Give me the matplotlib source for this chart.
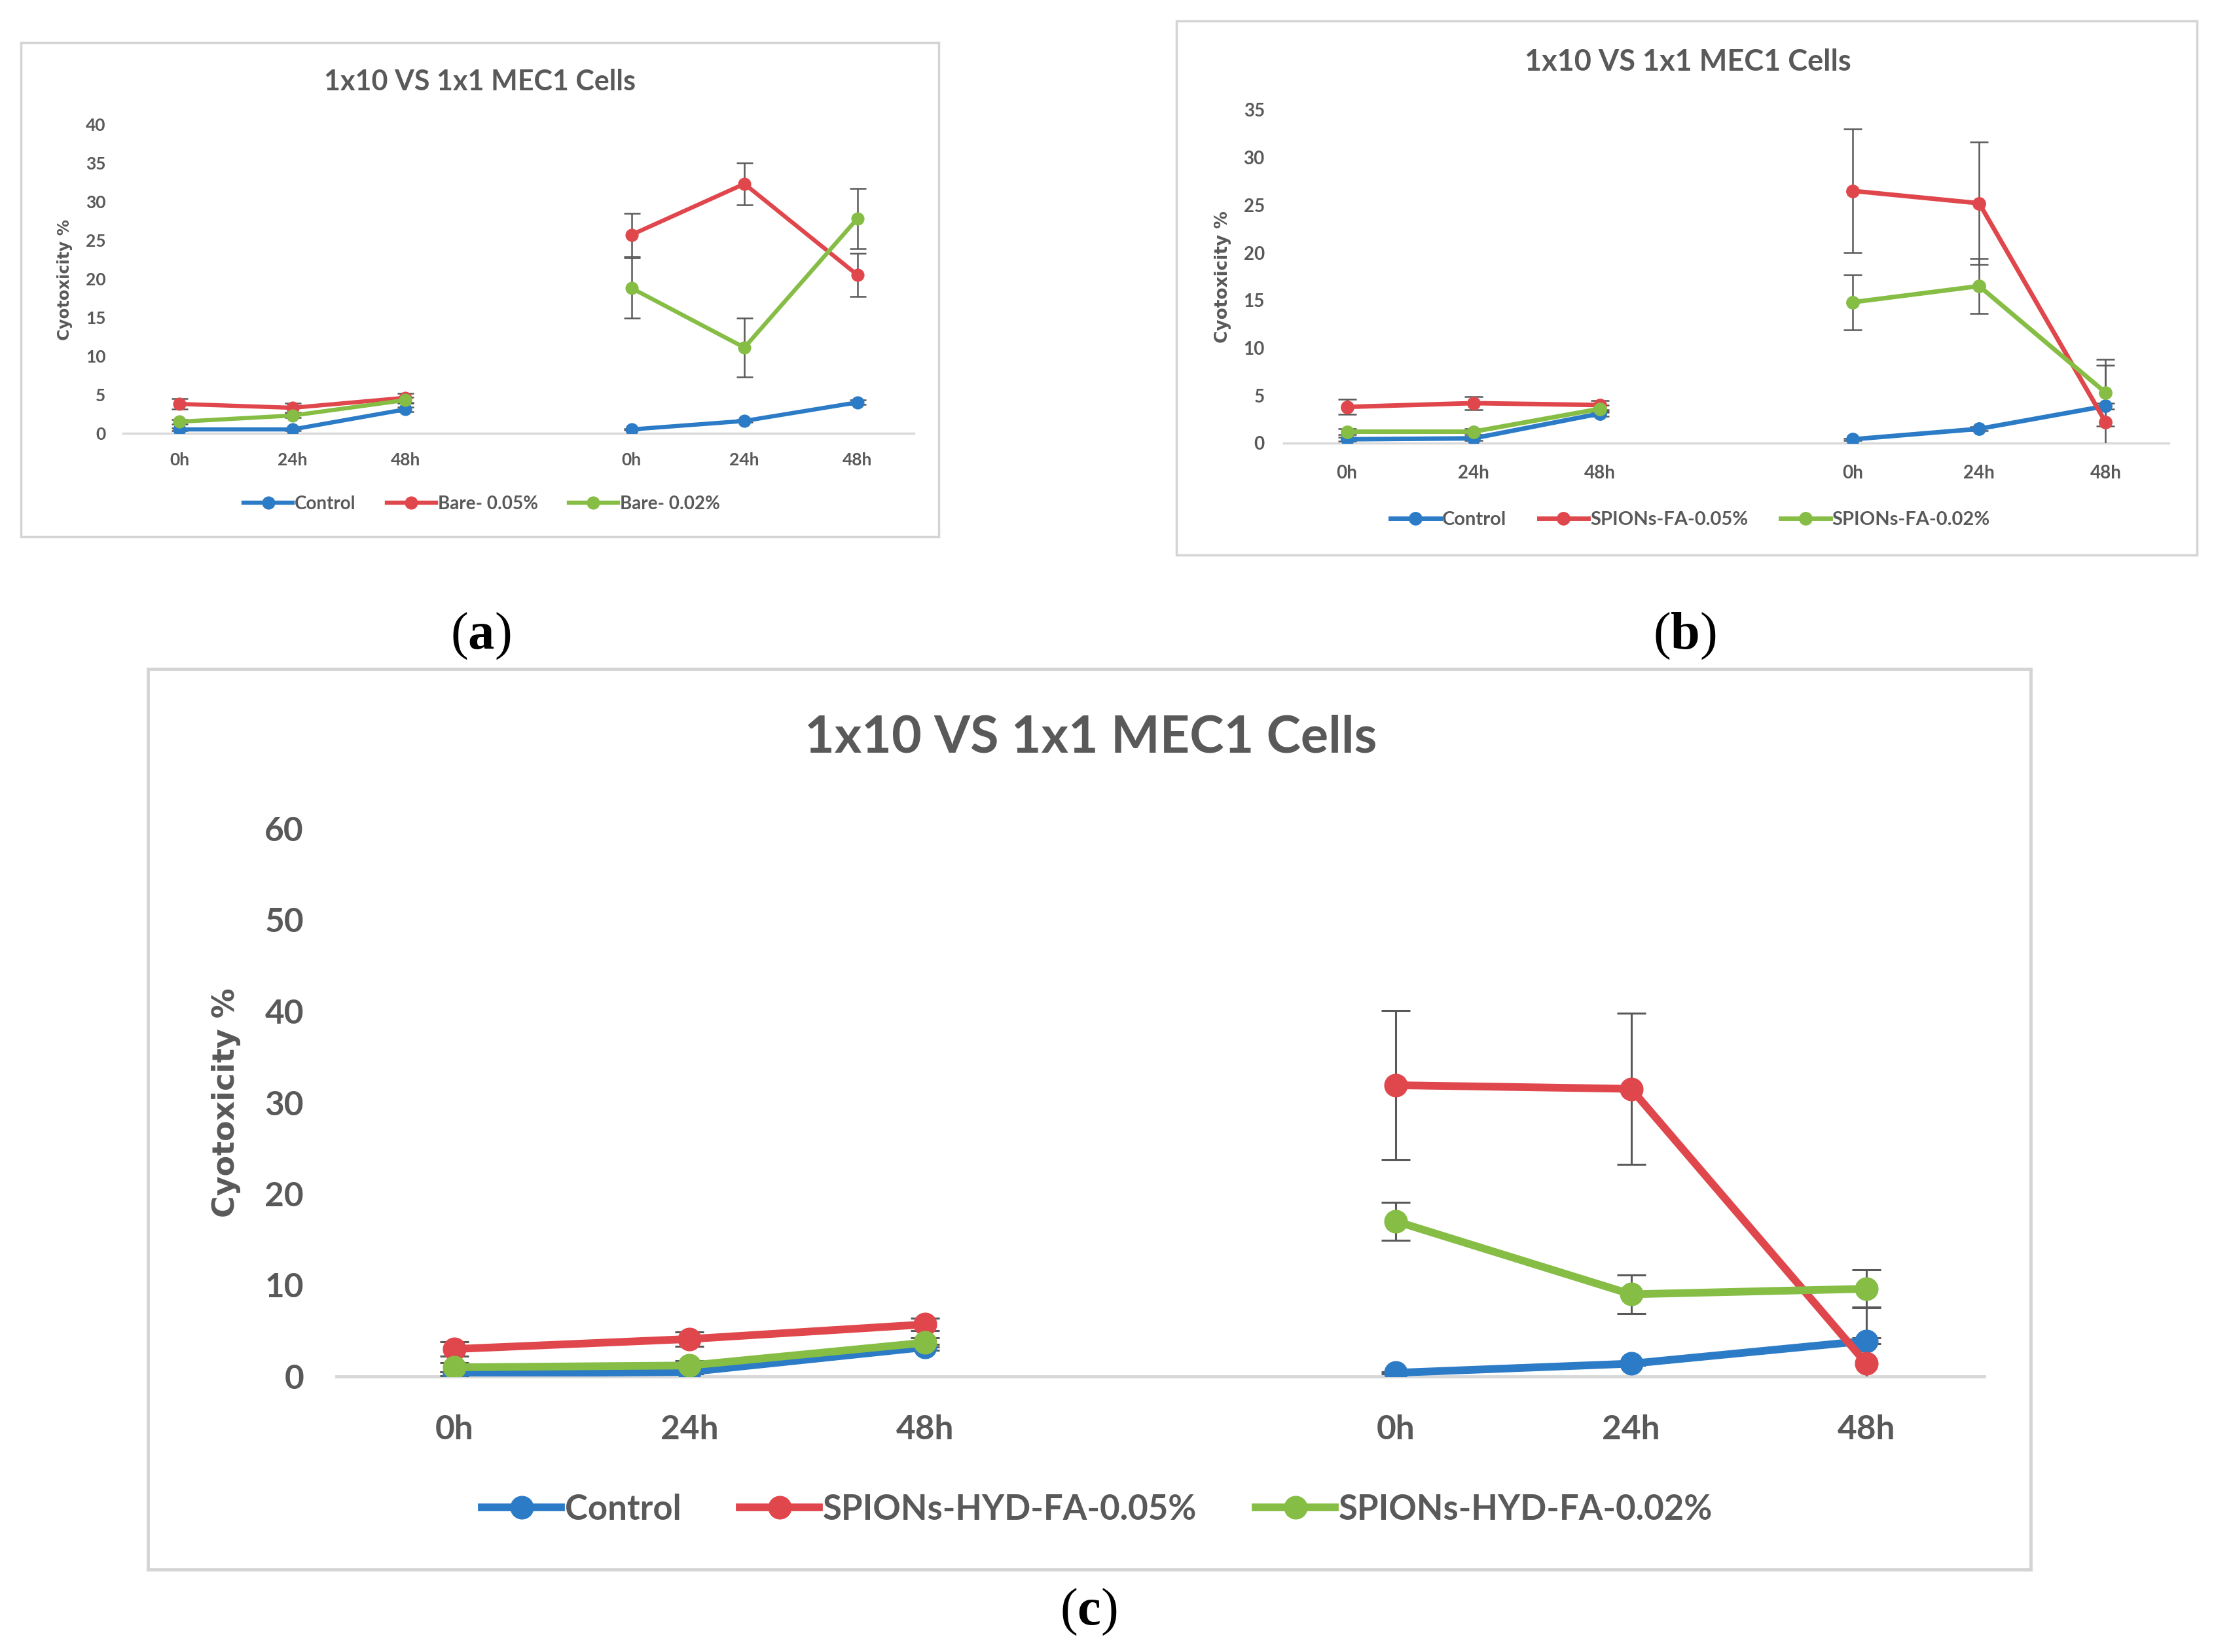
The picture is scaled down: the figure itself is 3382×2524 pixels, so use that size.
import matplotlib
matplotlib.use("Agg")
import matplotlib.pyplot as plt
from matplotlib.patches import Rectangle
from matplotlib.lines import Line2D
import numpy as np

plt.rcParams['mathtext.fontset'] = 'custom'
plt.rcParams['mathtext.rm'] = 'Liberation Serif'
plt.rcParams['mathtext.bf'] = 'Liberation Serif:bold'

# categories (blank slot separates the two groups)
hours = ['0h', '24h', '48h', '', '0h', '24h', '48h']
nan = np.nan

# panel (a)
a_control = [0.5, 0.5, 3.1, nan, 0.5, 1.6, 4.0]
a_control_err = [0.2, 0.2, 0.3, nan, 0.1, 0.2, 0.3]
a_red = [3.8, 3.3, 4.6, nan, 25.7, 32.3, 20.5]
a_red_err = [0.7, 0.6, 0.6, nan, 2.8, 2.7, 2.8]
a_green = [1.5, 2.3, 4.3, nan, 18.8, 11.1, 27.8]
a_green_err = [0.3, 0.3, 0.4, nan, 3.9, 3.8, 3.9]
a_labels = ['Control', 'Bare- 0.05%', 'Bare- 0.02%']

# panel (b)
b_control = [0.4, 0.5, 3.1, nan, 0.4, 1.5, 3.9]
b_control_err = [0.2, 0.2, 0.3, nan, 0.1, 0.2, 0.3]
b_red = [3.8, 4.2, 4.0, nan, 26.5, 25.2, 2.2]
b_red_err = [0.8, 0.7, 0.5, nan, 6.5, 6.4, 6.0]
b_green = [1.2, 1.2, 3.6, nan, 14.8, 16.5, 5.3]
b_green_err = [0.3, 0.3, 0.4, nan, 2.9, 2.9, 3.5]
b_labels = ['Control', 'SPIONs-FA-0.05%', 'SPIONs-FA-0.02%']

# panel (c)
c_control = [0.3, 0.5, 3.2, nan, 0.4, 1.4, 3.9]
c_control_err = [0.2, 0.2, 0.3, nan, 0.1, 0.2, 0.3]
c_red = [3.0, 4.1, 5.7, nan, 31.9, 31.5, 1.4]
c_red_err = [0.8, 0.8, 0.7, nan, 8.2, 8.3, 6.2]
c_green = [1.0, 1.2, 3.7, nan, 17.0, 9.0, 9.6]
c_green_err = [0.5, 0.5, 0.5, nan, 2.1, 2.1, 2.1]
c_labels = ['Control', 'SPIONs-HYD-FA-0.05%', 'SPIONs-HYD-FA-0.02%']

title = '1x10 VS 1x1 MEC1 Cells'
ylab = 'Cyotoxicity %'
panel_tags = ['a', 'b', 'c']

BLUE = '#2b7bc6'
RED = '#e0474c'
GREEN = '#86bd45'
GREY = '#595959'
AXIS = '#d9d9d9'

W, H = 3382, 2524
fig = plt.figure(figsize=(W / 100, H / 100), dpi=100)


def fx(px):
    return px / W


def fy(py):
    return 1 - py / H


def panel(box, axbox, series, labels, ymax, ystep, fs, ms, lw, cap, pads,
          tpos, ypos, lpos, hlen):
    # light grey chart frame
    x0, y0, x1, y1 = box
    fig.patches.append(Rectangle((fx(x0), fy(y1)), fx(x1 - x0), (y1 - y0) / H,
                                 transform=fig.transFigure, fill=False,
                                 edgecolor='#d4d4d4', lw=fs['frame']))
    l, t, r, b = axbox
    ax = fig.add_axes([fx(l), fy(b), fx(r - l), (b - t) / H])
    x = np.arange(len(hours))
    for (vals, errs), col in zip(series, [BLUE, RED, GREEN]):
        ax.errorbar(x, vals, yerr=errs, fmt='none', ecolor=GREY,
                    elinewidth=fs['err'], capsize=cap, capthick=fs['err'],
                    zorder=2)
        ax.plot(x, vals, color=col, lw=lw, marker='o', ms=ms, zorder=3,
                solid_capstyle='round')
    ax.set_xlim(-0.5, len(hours) - 0.5)
    ax.set_ylim(0, ymax)
    ax.set_yticks(np.arange(0, ymax + 1, ystep))
    ax.set_xticks(x)
    ax.set_xticklabels(hours)
    for s in ['top', 'right', 'left']:
        ax.spines[s].set_visible(False)
    ax.spines['bottom'].set_color(AXIS)
    ax.spines['bottom'].set_linewidth(fs['frame'])
    ax.spines['bottom'].set_zorder(1)
    ax.tick_params(length=0, labelsize=fs['tick'], labelcolor=GREY)
    ax.tick_params(axis='x', pad=pads[0])
    ax.tick_params(axis='y', pad=pads[1])
    for lab in ax.get_xticklabels() + ax.get_yticklabels():
        lab.set_fontfamily('Lato')
        lab.set_fontweight('bold')
    ax.patch.set_alpha(0)

    fig.text(fx(tpos[0]), fy(tpos[1]), title, ha='center', va='center',
             fontsize=fs['title'], color=GREY, fontweight='bold',
             family='Lato')
    fig.text(fx(ypos[0]), fy(ypos[1]), ylab, ha='center', va='center',
             rotation=90, fontsize=fs['ylab'], color=GREY,
             fontweight='bold', family='DejaVu Sans')

    handles = [Line2D([], [], color=c, lw=lw, marker='o', ms=ms)
               for c in [BLUE, RED, GREEN]]
    fig.legend(handles, labels, loc='center',
               bbox_to_anchor=(fx(lpos[0]), fy(lpos[1])), ncol=3,
               frameon=False, handlelength=hlen, handletextpad=0.1,
               columnspacing=1.7,
               prop={'family': 'Lato', 'weight': 'bold',
                     'size': fs['legend']}, labelcolor=GREY)
    return ax


panel((32, 65, 1434, 820), (188, 190, 1396, 662),
      [(a_control, a_control_err), (a_red, a_red_err),
       (a_green, a_green_err)],
      a_labels, 40, 5,
      {'tick': 19, 'title': 31, 'ylab': 17.5, 'legend': 20, 'frame': 2.5,
       'err': 1.8},
      ms=13.5, lw=4.6, cap=9, pads=(21, 19),
      tpos=(733, 125), ypos=(99, 428), lpos=(736, 770), hlen=2.7)

panel((1797, 32, 3356, 848), (1961, 168, 3313, 677),
      [(b_control, b_control_err), (b_red, b_red_err),
       (b_green, b_green_err)],
      b_labels, 35, 5,
      {'tick': 20, 'title': 32.5, 'ylab': 19, 'legend': 21, 'frame': 2.5,
       'err': 1.8},
      ms=14, lw=5, cap=10, pads=(24, 21),
      tpos=(2578, 95), ypos=(1868, 423), lpos=(2582, 794), hlen=2.6)

panel((226, 1022, 3102, 2398), (514, 1266, 3031, 2103),
      [(c_control, c_control_err), (c_red, c_red_err),
       (c_green, c_green_err)],
      c_labels, 60, 10,
      {'tick': 37, 'title': 57, 'ylab': 33, 'legend': 38, 'frame': 3.5,
       'err': 2.2},
      ms=25, lw=8.5, cap=16, pads=(42, 36),
      tpos=(1666, 1128), ypos=(345, 1685), lpos=(1676, 2306), hlen=2.3)

# panel tags: plain parentheses, bold letter
for tag, (px, py) in zip(panel_tags,
                         [(734, 972), (2573, 972), (1663, 2463)]):
    fig.text(fx(px), fy(py), r'($\mathbf{%s}$)' % tag, ha='center',
             va='center', fontsize=58, color='black',
             family='Liberation Serif')

fig.savefig('out.png', dpi=100, facecolor='white')
